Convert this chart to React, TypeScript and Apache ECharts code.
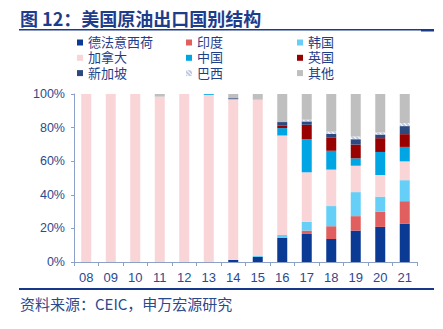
import React, { useEffect, useRef } from "react";
import * as echarts from "echarts";

const years = ["08", "09", "10", "11", "12", "13", "14", "15", "16", "17", "18", "19", "20", "21"];
const seriesNames = ["德法意西荷", "印度", "韩国", "加拿大", "中国", "英国", "新加坡", "巴西", "其他"];
const euro = [0, 0, 0, 0, 0, 0, 1.2, 3.0, 14.3, 16.7, 13.7, 18.7, 20.9, 22.7];
const india = [0, 0, 0, 0, 0, 0, 0, 0, 0, 2.0, 7.6, 8.6, 9.0, 13.5];
const korea = [0, 0, 0, 0, 0, 0, 0, 0.8, 1.8, 5.2, 12.0, 14.3, 9.0, 12.5];
const canada = [100, 100, 100, 98.4, 100, 99.5, 95.7, 92.8, 59.2, 29.5, 21.7, 15.7, 12.9, 11.2];
const china = [0, 0, 0, 0, 0, 0.5, 0, 0, 4.4, 19.7, 11.2, 4.4, 13.7, 8.6];
const uk = [0, 0, 0, 0, 0, 0, 0, 0, 1.4, 8.6, 8.0, 8.2, 8.2, 7.6];
const singapore = [0, 0, 0, 0, 0, 0, 0.6, 0, 2.2, 2.0, 2.0, 3.2, 2.2, 4.8];
const brazil = [0, 0, 0, 0, 0, 0, 0, 0, 0, 1.0, 1.4, 1.6, 1.2, 1.8];
const others = [0, 0, 0, 1.6, 0, 0, 2.5, 3.4, 16.7, 15.3, 22.4, 25.3, 22.9, 17.3];
const yTicks = [0, 20, 40, 60, 80, 100];

const values = [euro, india, korea, canada, china, uk, singapore, brazil, others];
const colors = ["#0B3A94", "#E25F5F", "#66CFF7", "#F9D5D7", "#00A6E3", "#990000", "#2C4A80", "#FFFFFF", "#BFBFBF"];

const titleText = "图 12：美国原油出口国别结构";
const sourceText = "资料来源：CEIC，申万宏源研究";

export default function App() {
  const ref = useRef<HTMLDivElement>(null);
  useEffect(() => {
    if (!ref.current) return;
    const chart = echarts.init(ref.current, undefined, { renderer: "svg" });
    const cjk = "'Noto Sans CJK SC', 'Noto Sans', sans-serif";
    const legendFont = "'Liberation Sans', 'Noto Sans CJK SC', sans-serif";
    const legendCols = [
      { left: 77, names: [seriesNames[0], seriesNames[3], seriesNames[6]] },
      { left: 186, names: [seriesNames[1], seriesNames[4], seriesNames[7]] },
      { left: 297, names: [seriesNames[2], seriesNames[5], seriesNames[8]] },
    ];
    chart.setOption({
      animation: false,
      backgroundColor: "#FFFFFF",
      legend: legendCols.map((c) => ({
        orient: "vertical",
        left: c.left,
        top: 35.5,
        padding: 0,
        itemGap: 1.3,
        itemWidth: 6,
        itemHeight: 6,
        icon: "rect",
        data: c.names,
        textStyle: { fontFamily: legendFont, fontSize: 13, color: "#1F3E8A", lineHeight: 14 },
      })),
      grid: { left: 74, right: 26, top: 94, bottom: 67 },
      xAxis: {
        type: "category",
        data: years,
        axisLine: { lineStyle: { color: "#8DA0C8", width: 1 } },
        axisTick: { show: true, length: 4, lineStyle: { color: "#8DA0C8" } },
        axisLabel: { color: "#2A4A8F", fontSize: 13, fontFamily: "'Liberation Sans', Arial, sans-serif", margin: 9 },
      },
      yAxis: {
        type: "value",
        min: yTicks[0],
        max: yTicks[yTicks.length - 1],
        interval: 20,
        splitLine: { show: false },
        axisLine: { show: true, lineStyle: { color: "#8DA0C8", width: 1 } },
        axisTick: { show: true, length: 3, lineStyle: { color: "#8DA0C8" } },
        axisLabel: { formatter: "{value}%", color: "#2A4A8F", fontSize: 12.5, fontFamily: "'Liberation Sans', Arial, sans-serif", margin: 9 },
      },
      series: seriesNames.map((name, i) => ({
        name,
        type: "bar",
        stack: "total",
        barWidth: 10,
        data: values[i],
        itemStyle:
          name === "巴西"
            ? {
                color: "#FFFFFF",
                decal: { symbol: "rect", symbolSize: 0.6, color: "#2C4A9A", dashArrayX: [1, 0], dashArrayY: [2, 1], rotation: 0.785 },
              }
            : { color: colors[i] },
      })),
      graphic: [
        { type: "text", left: 20, top: 9, style: { text: titleText, font: `bold 18px ${cjk}`, fill: "#1D3D8C" } },
        { type: "rect", shape: { x: 19, y: 29, width: 415, height: 1.5 }, style: { fill: "#1A3A8A" } },
        { type: "rect", shape: { x: 421, y: 29, width: 13, height: 2.5 }, style: { fill: "#1A3A8A" } },
        { type: "rect", shape: { x: 19, y: 288, width: 415, height: 2 }, style: { fill: "#17378A" } },
        { type: "text", left: 20, top: 296, style: { text: sourceText, font: `15px ${cjk}`, fill: "#2A4A8F" } },
      ],
    });
    return () => chart.dispose();
  }, []);
  return <div ref={ref} style={{ position: "absolute", left: 0, top: 0, width: 443, height: 329 }} />;
}
